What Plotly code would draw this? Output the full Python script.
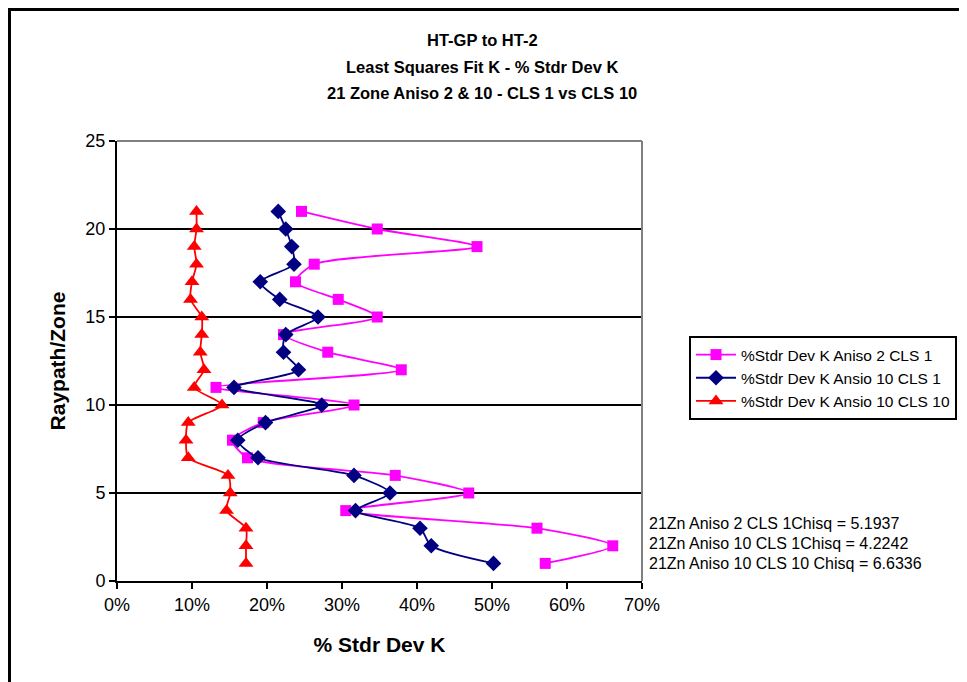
import plotly.graph_objects as go

zones = list(range(1, 22))

aniso2_cls1 = [57.1, 66.1, 56.0, 30.5, 46.9, 37.1, 17.4, 15.4, 19.5, 31.6,
               13.2, 37.9, 28.1, 22.2, 34.7, 29.5, 23.8, 26.3, 48.0, 34.7, 24.6]
aniso10_cls1 = [50.2, 41.9, 40.4, 31.8, 36.4, 31.6, 18.8, 16.1, 19.8, 27.3,
                15.6, 24.2, 22.2, 22.5, 26.8, 21.7, 19.1, 23.6, 23.3, 22.5, 21.5]
aniso10_cls10 = [17.2, 17.2, 17.2, 14.6, 15.1, 14.8, 9.5, 9.2, 9.5, 14.0,
                 10.3, 11.6, 11.1, 11.3, 11.3, 9.8, 10.0, 10.6, 10.3, 10.6, 10.6]

series_names = ["%Stdr Dev K Aniso 2 CLS 1",
                "%Stdr Dev K Ansio 10 CLS 1",
                "%Stdr Dev K Ansio 10 CLS 10"]
chisq_labels = ["21Zn Aniso 2 CLS 1Chisq = 5.1937",
                "21Zn Aniso 10 CLS 1Chisq = 4.2242",
                "21Zn Aniso 10 CLS 10 Chisq = 6.6336"]
title_lines = ["HT-GP to HT-2",
               "Least Squares Fit K - % Stdr Dev K",
               "21 Zone Aniso 2 & 10 - CLS 1 vs CLS 10"]

FONT = "Liberation Sans, Arial, sans-serif"

fig = go.Figure()
styles = [
    ("#FF00FF", "square", 11),
    ("#000080", "diamond", 12),
    ("#FF0000", "triangle-up", 13),
]
for vals, name, (col, sym, sz) in zip([aniso2_cls1, aniso10_cls1, aniso10_cls10], series_names, styles):
    fig.add_trace(go.Scatter(
        x=[v / 100 for v in vals], y=zones, name=name, mode="lines+markers",
        line=dict(color=col, width=1.8, shape="spline", smoothing=0.7),
        marker=dict(color=col, symbol=sym, size=sz, line=dict(width=0)),
        cliponaxis=False,
    ))

# page body has an 8px margin; target pixel positions are shifted accordingly
OFF = 8
W, H = 967, 682
L = 117 - OFF
T = 141 - OFF
R = W - (642 - OFF)
B = H - (581 - OFF)
pw = W - L - R
ph = H - T - B

def px_x(p):
    return (p - OFF - L) / pw

def px_y(p):
    return (H - B - (p - OFF)) / ph

annotations = []
for txt, yy in zip(title_lines, [40, 67, 93]):
    annotations.append(dict(text="<b>" + txt + "</b>", x=px_x(482), y=px_y(yy),
                            xref="paper", yref="paper", showarrow=False,
                            xanchor="center", yanchor="middle",
                            font=dict(family=FONT, size=16.5, color="black")))
for txt, yy in zip(chisq_labels, [523, 543, 563]):
    annotations.append(dict(text=txt, x=px_x(647), y=px_y(yy),
                            xref="paper", yref="paper", showarrow=False,
                            xanchor="left", yanchor="middle",
                            font=dict(family=FONT, size=16, color="black")))

shapes = [
    dict(type="rect", xref="paper", yref="paper",
         x0=px_x(9.5), x1=px_x(1100), y0=px_y(800), y1=px_y(9.5),
         line=dict(color="black", width=3), layer="below"),
    dict(type="line", xref="paper", yref="paper", x0=0, x1=1, y0=1, y1=1,
         line=dict(color="#808080", width=2), layer="above"),
    dict(type="line", xref="paper", yref="paper", x0=1, x1=1, y0=0, y1=1,
         line=dict(color="#808080", width=2), layer="above"),
]

fig.update_layout(
    width=W, height=H,
    margin=dict(l=L, r=R, t=T, b=B, autoexpand=False),
    paper_bgcolor="white", plot_bgcolor="white",
    font=dict(family=FONT, color="black"),
    showlegend=True,
    legend=dict(x=px_x(689), y=px_y(336), xanchor="left", yanchor="top",
                bordercolor="black", borderwidth=2, bgcolor="white",
                font=dict(family=FONT, size=15.5, color="black"),
                tracegroupgap=0, itemwidth=40),
    annotations=annotations,
    shapes=shapes,
    xaxis=dict(range=[0, 0.7], dtick=0.1, tickformat=".0%",
               showgrid=False, zeroline=False, showline=True,
               linecolor="black", linewidth=2, ticks="outside",
               ticklen=6, tickcolor="black", tickwidth=2,
               tickfont=dict(family=FONT, size=18, color="black"),
               title=dict(text="<b>% Stdr Dev K</b>", standoff=24,
                          font=dict(family=FONT, size=21, color="black"))),
    yaxis=dict(range=[0, 25], dtick=5, showgrid=True, gridcolor="black",
               gridwidth=1.5, zeroline=False, showline=True,
               linecolor="black", linewidth=2, ticks="outside",
               ticklen=6, tickcolor="black", tickwidth=2,
               tickfont=dict(family=FONT, size=18, color="black"),
               title=dict(text="<b>Raypath/Zone</b>", standoff=14,
                          font=dict(family=FONT, size=21, color="black"))),
)

fig.write_html("out.html")
